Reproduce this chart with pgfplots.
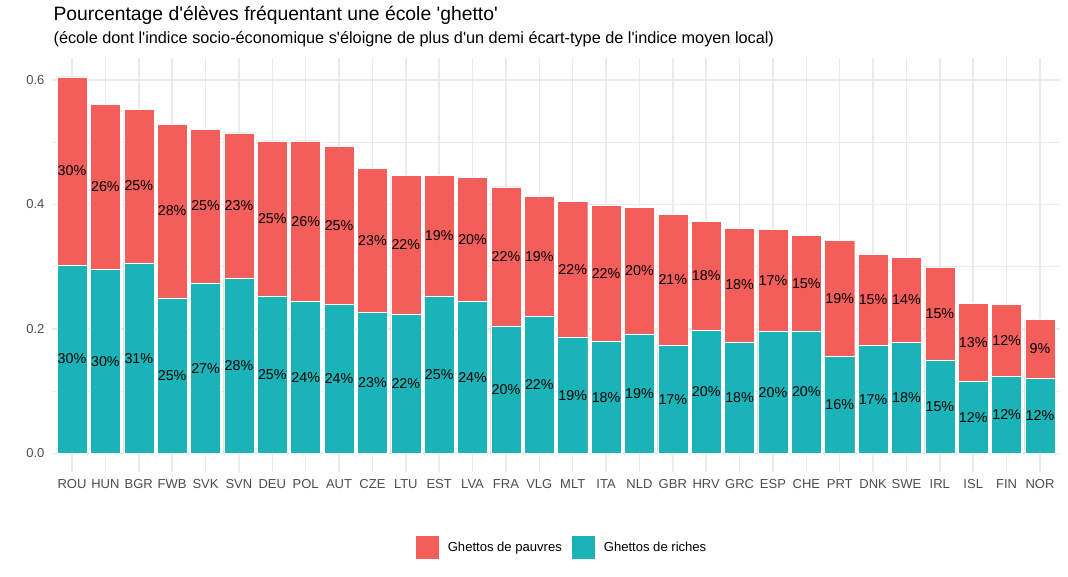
\documentclass[border=0pt]{standalone}
\usepackage{pgfplots}
\usepackage{pgfplotstable}
\pgfplotsset{compat=1.18}
\usepackage{fontspec}
\setmainfont{Liberation Sans}
\definecolor{pauvre}{HTML}{F35E5A}
\definecolor{riche}{HTML}{19B3B8}
\definecolor{gridgray}{HTML}{EBEBEB}
\definecolor{ticktext}{HTML}{4D4D4D}

% share of pupils in "ghetto" schools: rich (bottom) and total (top of bar)
\pgfplotstableread{
idx name riches total labR labP
0  ROU 0.303 0.605 30 30
1  HUN 0.296 0.561 30 26
2  BGR 0.306 0.553 31 25
3  FWB 0.250 0.529 25 28
4  SVK 0.274 0.521 27 25
5  SVN 0.281 0.515 28 23
6  DEU 0.253 0.502 25 25
7  POL 0.244 0.502 24 26
8  AUT 0.239 0.493 24 25
9  CZE 0.227 0.458 23 23
10 LTU 0.224 0.447 22 22
11 EST 0.253 0.447 25 19
12 LVA 0.244 0.443 24 20
13 FRA 0.205 0.428 20 22
14 VLG 0.220 0.413 22 19
15 MLT 0.186 0.405 19 22
16 ITA 0.180 0.398 18 22
17 NLD 0.192 0.395 19 20
18 GBR 0.174 0.384 17 21
19 HRV 0.198 0.373 20 18
20 GRC 0.179 0.362 18 18
21 ESP 0.196 0.360 20 17
22 CHE 0.197 0.350 20 15
23 PRT 0.156 0.342 16 19
24 DNK 0.173 0.320 17 15
25 SWE 0.178 0.315 18 14
26 IRL 0.150 0.299 15 15
27 ISL 0.116 0.241 12 13
28 FIN 0.124 0.239 12 12
29 NOR 0.121 0.215 12 9
}\ghetto

\begin{document}
\begin{tikzpicture}
\path[use as bounding box] (-39pt,-78.75pt) rectangle (762pt,354pt);
\begin{axis}[
    at={(0pt,0pt)}, anchor=south west,
    scale only axis,
    width=756pt, height=310.5pt,
    xmin=-0.6, xmax=29.6,
    ymin=-0.030, ymax=0.6353,
    xtick={0,...,29},
    xticklabels={ROU,HUN,BGR,FWB,SVK,SVN,DEU,POL,AUT,CZE,LTU,EST,LVA,FRA,VLG,MLT,ITA,NLD,GBR,HRV,GRC,ESP,CHE,PRT,DNK,SWE,IRL,ISL,FIN,NOR},
    ytick={0,0.2,0.4,0.6},
    yticklabels={0.0,0.2,0.4,0.6},
    minor ytick={0.1,0.3,0.5},
    xmajorgrids, ymajorgrids, yminorgrids,
    major grid style={draw=gridgray, line width=1.1pt},
    minor grid style={draw=gridgray, line width=0.55pt},
    axis line style={draw=none},
    major tick length=0pt, minor tick length=0pt,
    tick style={draw=none},
    ticklabel style={font=\fontsize{9.75}{11}\selectfont, text=ticktext, inner sep=0pt},
    xticklabel style={yshift=-5.5pt},
    yticklabel style={xshift=-5.5pt},
    bar width=0.9, bar shift=0pt,
    legend columns=2,
    legend style={at={(0.505,0)}, anchor=center, yshift=-56.6pt,
        draw=none, fill=none, font=\fontsize{9.8}{11}\selectfont,
        nodes={inner sep=0pt},
        /tikz/every odd column/.style={column sep=6.75pt},
        /tikz/every even column/.style={column sep=7.5pt}},
    legend image code/.code={\fill[#1, draw=none] (0pt,-8.6pt) rectangle (17.25pt,8.6pt);},
    every node near coord/.append style={anchor=center, inner sep=0pt,
        font=\fontsize{10.7}{12}\selectfont, text=black},
]
\addplot[ybar, fill=pauvre, draw=white, line width=0.3pt]
    table[x=idx, y=total] {\ghetto};
\addlegendentry{Ghettos de pauvres}
\addplot[ybar, fill=riche, draw=white, line width=0.3pt]
    table[x=idx, y=riches] {\ghetto};
\addlegendentry{Ghettos de riches}
\addplot[only marks, mark=none, forget plot, point meta=explicit symbolic,
    nodes near coords={\pgfplotspointmeta\%}]
    table[x=idx, y expr={\thisrow{riches}/2}, meta=labR] {\ghetto};
\addplot[only marks, mark=none, forget plot, point meta=explicit symbolic,
    nodes near coords={\pgfplotspointmeta\%}]
    table[x=idx, y expr={(\thisrow{riches}+\thisrow{total})/2}, meta=labP] {\ghetto};
\end{axis}
\node[anchor=base west, inner sep=0pt, font=\fontsize{14.5}{17}\selectfont]
    at ([xshift=1pt, yshift=28pt]current axis.north west)
    {Pourcentage d\textquotesingle élèves fréquentant une école \textquotesingle ghetto\textquotesingle};
\node[anchor=base west, inner sep=0pt, font=\fontsize{12.2}{14}\selectfont]
    at ([xshift=1pt, yshift=10.9pt]current axis.north west)
    {(école dont l\textquotesingle indice socio-économique s\textquotesingle éloigne de plus d\textquotesingle un demi écart-type de l\textquotesingle indice moyen local)};
\end{tikzpicture}
\end{document}
